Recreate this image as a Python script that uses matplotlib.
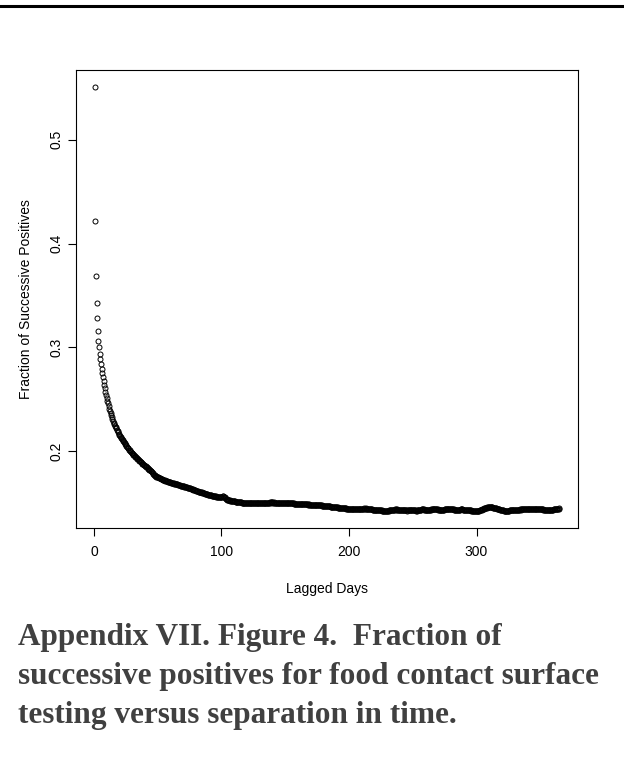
import numpy as np
import matplotlib
matplotlib.use('Agg')
import matplotlib.pyplot as plt
from matplotlib.lines import Line2D


# fraction of successive positives, one value per half day of lag (0.5 .. 365)
frac_successive = [
    0.551, 0.422, 0.369, 0.343, 0.328, 0.3155, 0.306, 0.300, 0.294, 0.289,
    0.284, 0.279, 0.275, 0.271, 0.2675, 0.264, 0.2605, 0.257, 0.254, 0.251,
    0.2485, 0.246, 0.2435, 0.241, 0.239, 0.237, 0.235, 0.233, 0.231, 0.229,
    0.2275, 0.226, 0.2245, 0.2232, 0.2218, 0.2205, 0.2192, 0.2180, 0.2168, 0.2158,
    0.2147, 0.2138, 0.2126, 0.2117, 0.2105, 0.2097, 0.2086, 0.2078, 0.2068, 0.2060,
    0.2050, 0.2043, 0.2032, 0.2026, 0.2015, 0.2009, 0.1999, 0.1993, 0.1985, 0.1979,
    0.1972, 0.1966, 0.1958, 0.1953, 0.1945, 0.1941, 0.1933, 0.1928, 0.1920, 0.1916,
    0.1909, 0.1903, 0.1898, 0.1891, 0.1887, 0.1880, 0.1875, 0.1869, 0.1864, 0.1858,
    0.1853, 0.1849, 0.1842, 0.1838, 0.1831, 0.1828, 0.1821, 0.1817, 0.1811, 0.1806,
    0.1798, 0.1785, 0.1776, 0.1771, 0.1768, 0.1762, 0.1759, 0.1754, 0.1752, 0.1748,
    0.1746, 0.1741, 0.1740, 0.1736, 0.1734, 0.1730, 0.1729, 0.1725, 0.1724, 0.1720,
    0.1719, 0.1716, 0.1714, 0.1711, 0.1710, 0.1706, 0.1705, 0.1702, 0.1701, 0.1698,
    0.1697, 0.1694, 0.1693, 0.1690, 0.1690, 0.1687, 0.1686, 0.1684, 0.1683, 0.1680,
    0.1679, 0.1676, 0.1676, 0.1672, 0.1671, 0.1668, 0.1668, 0.1664, 0.1663, 0.1660,
    0.1659, 0.1657, 0.1655, 0.1653, 0.1652, 0.1649, 0.1648, 0.1646, 0.1645, 0.1642,
    0.1641, 0.1637, 0.1636, 0.1631, 0.1630, 0.1626, 0.1625, 0.1622, 0.1621, 0.1618,
    0.1617, 0.1614, 0.1613, 0.1610, 0.1610, 0.1606, 0.1605, 0.1602, 0.1601, 0.1598,
    0.1597, 0.1594, 0.1593, 0.1590, 0.1589, 0.1586, 0.1586, 0.1582, 0.1581, 0.1579,
    0.1578, 0.1575, 0.1575, 0.1572, 0.1571, 0.1569, 0.1568, 0.1566, 0.1566, 0.1563,
    0.1563, 0.1561, 0.1560, 0.1558, 0.1558, 0.1556, 0.1556, 0.1555, 0.1556, 0.1557,
    0.1559, 0.1563, 0.1565, 0.1562, 0.1555, 0.1547, 0.1541, 0.1536, 0.1533, 0.1530,
    0.1528, 0.1526, 0.1524, 0.1523, 0.1521, 0.1520, 0.1518, 0.1518, 0.1516, 0.1516,
    0.1514, 0.1513, 0.1512, 0.1510, 0.1509, 0.1508, 0.1508, 0.1506, 0.1506, 0.1505,
    0.1505, 0.1503, 0.1504, 0.1502, 0.1503, 0.1501, 0.1502, 0.1500, 0.1501, 0.1500,
    0.1499, 0.1501, 0.1500, 0.1502, 0.1501, 0.1503, 0.1501, 0.1502, 0.1500, 0.1501,
    0.1499, 0.1500, 0.1498, 0.1499, 0.1498, 0.1500, 0.1499, 0.1501, 0.1500, 0.1502,
    0.1501, 0.1503, 0.1502, 0.1504, 0.1502, 0.1503, 0.1501, 0.1502, 0.1500, 0.1501,
    0.1500, 0.1502, 0.1502, 0.1504, 0.1503, 0.1505, 0.1504, 0.1506, 0.1505, 0.1506,
    0.1504, 0.1505, 0.1503, 0.1504, 0.1502, 0.1503, 0.1501, 0.1502, 0.1500, 0.1501,
    0.1499, 0.1500, 0.1498, 0.1499, 0.1497, 0.1498, 0.1496, 0.1497, 0.1496, 0.1497,
    0.1498, 0.1499, 0.1498, 0.1500, 0.1499, 0.1500, 0.1498, 0.1499, 0.1497, 0.1497,
    0.1495, 0.1496, 0.1494, 0.1495, 0.1493, 0.1494, 0.1492, 0.1493, 0.1491, 0.1492,
    0.1490, 0.1491, 0.1490, 0.1491, 0.1489, 0.1490, 0.1488, 0.1489, 0.1487, 0.1488,
    0.1487, 0.1488, 0.1486, 0.1487, 0.1485, 0.1486, 0.1484, 0.1486, 0.1484, 0.1485,
    0.1483, 0.1484, 0.1482, 0.1483, 0.1481, 0.1482, 0.1480, 0.1481, 0.1479, 0.1480,
    0.1478, 0.1479, 0.1477, 0.1478, 0.1476, 0.1477, 0.1475, 0.1476, 0.1474, 0.1474,
    0.1472, 0.1473, 0.1471, 0.1471, 0.1469, 0.1470, 0.1468, 0.1468, 0.1466, 0.1467,
    0.1465, 0.1465, 0.1463, 0.1464, 0.1462, 0.1462, 0.1460, 0.1461, 0.1459, 0.1459,
    0.1457, 0.1457, 0.1455, 0.1456, 0.1454, 0.1454, 0.1452, 0.1453, 0.1451, 0.1451,
    0.1449, 0.1450, 0.1448, 0.1448, 0.1446, 0.1447, 0.1445, 0.1445, 0.1443, 0.1444,
    0.1442, 0.1443, 0.1442, 0.1444, 0.1443, 0.1445, 0.1444, 0.1446, 0.1445, 0.1446,
    0.1444, 0.1445, 0.1443, 0.1444, 0.1442, 0.1443, 0.1441, 0.1442, 0.1440, 0.1441,
    0.1442, 0.1444, 0.1445, 0.1447, 0.1446, 0.1447, 0.1445, 0.1445, 0.1443, 0.1443,
    0.1441, 0.1441, 0.1439, 0.1439, 0.1437, 0.1437, 0.1435, 0.1436, 0.1434, 0.1434,
    0.1432, 0.1433, 0.1431, 0.1432, 0.1430, 0.1431, 0.1429, 0.1430, 0.1428, 0.1429,
    0.1427, 0.1428, 0.1426, 0.1427, 0.1425, 0.1426, 0.1424, 0.1425, 0.1423, 0.1424,
    0.1425, 0.1427, 0.1428, 0.1430, 0.1431, 0.1432, 0.1433, 0.1434, 0.1435, 0.1436,
    0.1436, 0.1437, 0.1436, 0.1437, 0.1436, 0.1437, 0.1435, 0.1436, 0.1435, 0.1436,
    0.1434, 0.1434, 0.1432, 0.1433, 0.1431, 0.1431, 0.1429, 0.1430, 0.1428, 0.1429,
    0.1427, 0.1428, 0.1429, 0.1430, 0.1431, 0.1432, 0.1431, 0.1432, 0.1430, 0.1431,
    0.1429, 0.1430, 0.1428, 0.1429, 0.1427, 0.1428, 0.1427, 0.1429, 0.1430, 0.1432,
    0.1433, 0.1435, 0.1436, 0.1438, 0.1437, 0.1438, 0.1436, 0.1437, 0.1435, 0.1436,
    0.1434, 0.1435, 0.1433, 0.1434, 0.1432, 0.1433, 0.1434, 0.1436, 0.1437, 0.1439,
    0.1440, 0.1441, 0.1440, 0.1441, 0.1439, 0.1440, 0.1438, 0.1438, 0.1436, 0.1437,
    0.1435, 0.1435, 0.1433, 0.1434, 0.1432, 0.1433, 0.1432, 0.1434, 0.1435, 0.1437,
    0.1438, 0.1440, 0.1441, 0.1442, 0.1441, 0.1442, 0.1440, 0.1441, 0.1439, 0.1440,
    0.1438, 0.1439, 0.1437, 0.1437, 0.1435, 0.1436, 0.1434, 0.1435, 0.1433, 0.1434,
    0.1432, 0.1433, 0.1434, 0.1436, 0.1437, 0.1438, 0.1437, 0.1437, 0.1435, 0.1435,
    0.1433, 0.1434, 0.1432, 0.1432, 0.1430, 0.1431, 0.1429, 0.1430, 0.1428, 0.1429,
    0.1427, 0.1428, 0.1426, 0.1427, 0.1425, 0.1426, 0.1424, 0.1425, 0.1423, 0.1424,
    0.1422, 0.1423, 0.1425, 0.1427, 0.1428, 0.1431, 0.1433, 0.1436, 0.1439, 0.1442,
    0.1445, 0.1448, 0.1450, 0.1453, 0.1454, 0.1456, 0.1457, 0.1458, 0.1458, 0.1459,
    0.1459, 0.1459, 0.1458, 0.1458, 0.1457, 0.1456, 0.1455, 0.1453, 0.1452, 0.1450,
    0.1448, 0.1446, 0.1444, 0.1442, 0.1440, 0.1438, 0.1436, 0.1434, 0.1432, 0.1431,
    0.1429, 0.1428, 0.1426, 0.1426, 0.1424, 0.1424, 0.1423, 0.1424, 0.1424, 0.1426,
    0.1426, 0.1428, 0.1428, 0.1430, 0.1429, 0.1431, 0.1430, 0.1432, 0.1431, 0.1433,
    0.1432, 0.1434, 0.1433, 0.1435, 0.1434, 0.1436, 0.1435, 0.1437, 0.1436, 0.1438,
    0.1437, 0.1439, 0.1438, 0.1440, 0.1439, 0.1441, 0.1440, 0.1442, 0.1441, 0.1443,
    0.1442, 0.1444, 0.1443, 0.1445, 0.1444, 0.1446, 0.1445, 0.1446, 0.1444, 0.1445,
    0.1443, 0.1444, 0.1442, 0.1443, 0.1441, 0.1442, 0.1440, 0.1441, 0.1439, 0.1440,
    0.1438, 0.1439, 0.1437, 0.1437, 0.1435, 0.1435, 0.1433, 0.1434, 0.1432, 0.1432,
    0.1430, 0.1430, 0.1428, 0.1429, 0.1428, 0.1430, 0.1431, 0.1433, 0.1434, 0.1436,
    0.1437, 0.1439, 0.1440, 0.1441, 0.1442, 0.1443, 0.1444, 0.1445, 0.1446, 0.1447,
]

lag_step = 0.5
lagged_days = lag_step * np.arange(1, len(frac_successive) + 1)

x_ticks = [0, 100, 200, 300]
y_ticks = [0.2, 0.3, 0.4, 0.5]
y_tick_labels = ['0.2', '0.3', '0.4', '0.5']

caption_lines = [
    'Appendix VII. Figure 4.  Fraction of',
    'successive positives for food contact surface',
    'testing versus separation in time.',
]

W, H = 624, 781

fig = plt.figure(figsize=(W / 100, H / 100), dpi=100)
plt.rcParams['font.family'] = ['Liberation Sans', 'DejaVu Sans']

# rule across the top of the page
fig.add_artist(Line2D([0, 1], [1 - 6 / H, 1 - 6 / H], color='black', linewidth=2.2,
                      transform=fig.transFigure))

ax = fig.add_axes([76 / W, 1 - 528 / H, 502 / W, 458 / H])
ax.plot(lagged_days, frac_successive, linestyle='none', marker='o', markersize=3.6,
        markerfacecolor='none', markeredgecolor='black', markeredgewidth=0.7)

# R style 4% padding around the data range
x = np.asarray(lagged_days)
y = np.asarray(frac_successive)
xpad = 0.04 * (x.max() - x.min())
ypad = 0.04 * (y.max() - y.min())
ax.set_xlim(x.min() - xpad, x.max() + xpad)
ax.set_ylim(y.min() - ypad, y.max() + ypad)

ax.set_xticks(x_ticks)
ax.set_yticks(y_ticks)
ax.set_yticklabels(y_tick_labels, rotation=90, va='center')
ax.tick_params(axis='both', direction='out', length=6, width=0.8, labelsize=10, color='black')
ax.tick_params(axis='x', pad=6.3)
ax.tick_params(axis='y', pad=2.8)

for side in ax.spines.values():
    side.set_linewidth(0.8)

fig.text(327 / W, 1 - 593 / H, 'Lagged Days', ha='center', va='baseline', fontsize=10)
fig.text(33.5 / W, 1 - 299 / H, 'Fraction of Successive Positives', rotation=90,
         ha='right', va='center', fontsize=10)

baselines = [645, 684, 723]
for line, yb in zip(caption_lines, baselines):
    fig.text(18 / W, 1 - yb / H, line, ha='left', va='baseline', fontsize=22.5,
             fontweight='bold', family=['Liberation Serif', 'DejaVu Serif'], color='#404040')

fig.savefig('out.png', dpi=100)
plt.close(fig)
